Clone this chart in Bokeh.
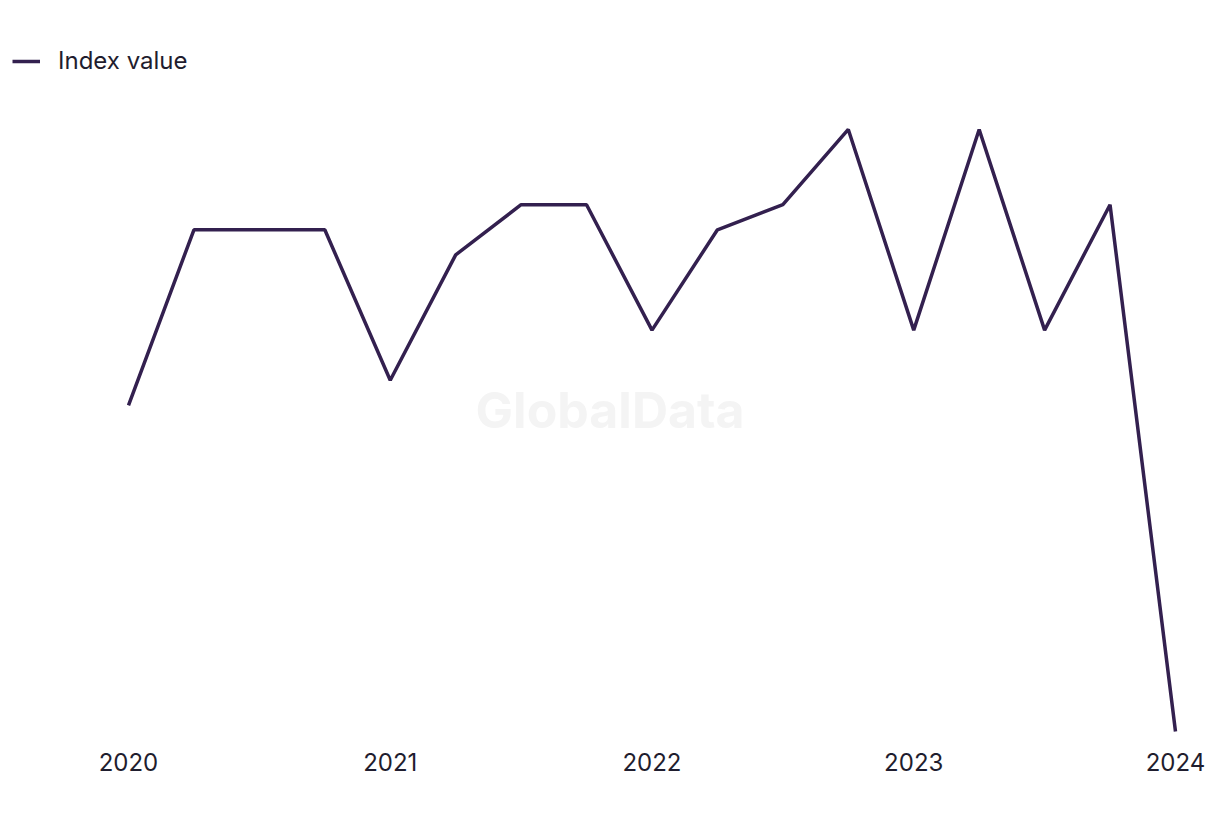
from bokeh.plotting import figure
from bokeh.models import ColumnDataSource, Range1d, Legend, LegendItem, Label, FixedTicker
from bokeh.embed import file_html
from bokeh.resources import INLINE

quarters = ["2020Q1", "2020Q2", "2020Q3", "2020Q4",
            "2021Q1", "2021Q2", "2021Q3", "2021Q4",
            "2022Q1", "2022Q2", "2022Q3", "2022Q4",
            "2023Q1", "2023Q2", "2023Q3", "2023Q4",
            "2024Q1"]
index_value = [19, 26, 26, 26, 20, 25, 27, 27, 22, 26, 27, 30, 22, 30, 22, 27, 6]
tick_positions = [0, 4, 8, 12, 16]
tick_labels = ["2020", "2021", "2022", "2023", "2024"]

FONT = "Inter"
TEXT = "#1f1d2e"
LINE = "#33204f"

src = ColumnDataSource(dict(x=list(range(len(quarters))), y=index_value, q=quarters))

p = figure(width=1220, height=820, output_backend="svg", toolbar_location=None,
           x_range=Range1d(-1.956, 16.688), y_range=Range1d(5.64, 35.14),
           min_border_left=0, min_border_right=0, min_border_top=0, min_border_bottom=80)
p.outline_line_color = None
p.background_fill_color = "white"
p.border_fill_color = "white"
p.grid.visible = False
p.yaxis.visible = False

p.xaxis.ticker = FixedTicker(ticks=tick_positions)
p.xaxis.major_label_overrides = {t: l for t, l in zip(tick_positions, tick_labels)}
p.xaxis.axis_line_color = None
p.xaxis.major_tick_line_color = None
p.xaxis.minor_tick_line_color = None
p.xaxis.major_tick_out = 0
p.xaxis.major_tick_in = 0
p.xaxis.major_label_standoff = 12
p.xaxis.major_label_text_font = FONT
p.xaxis.major_label_text_font_size = "24px"
p.xaxis.major_label_text_color = TEXT

wm = Label(x=7.36, y=18.8, text="GlobalData", text_font=FONT, text_font_size="50px",
           text_font_style="bold", text_color="#f4f4f4", text_align="center",
           text_baseline="middle")
p.add_layout(wm)

r = p.line("x", "y", source=src, line_color=LINE, line_width=3.5)

legend = Legend(items=[LegendItem(label="Index value", renderers=[r])],
                location=(12, 665), margin=0, padding=12, glyph_width=28, glyph_height=24,
                label_height=24, label_standoff=18, label_text_font=FONT,
                label_text_font_size="24px", label_text_color=TEXT,
                border_line_color=None, background_fill_alpha=0)
p.add_layout(legend)

open("out.html", "w").write(file_html(p, INLINE))
